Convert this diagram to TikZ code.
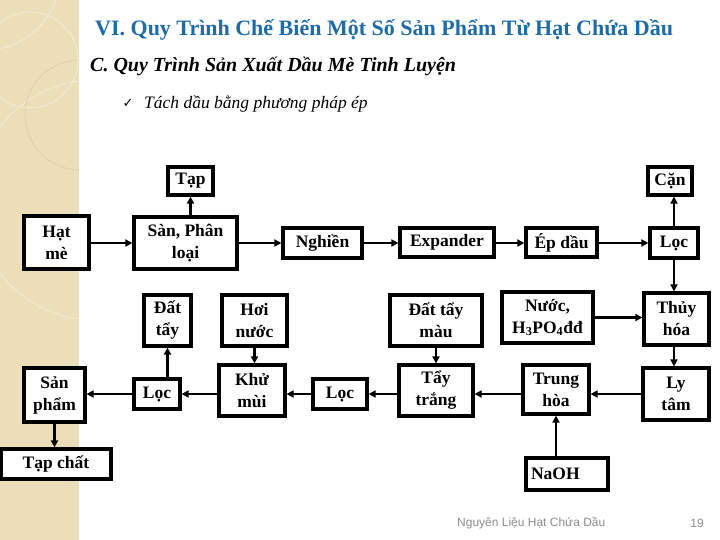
\documentclass[tikz,border=0pt]{standalone}
\usepackage{fontspec}
\setmainfont{Liberation Serif}
\newfontfamily\sansf{Liberation Sans}
\newfontfamily\dejavu{DejaVu Sans}
\usetikzlibrary{arrows.meta,calc}
\definecolor{stripe}{RGB}{235,222,184}
\definecolor{stripel}{RGB}{243,234,208}
\definecolor{striped}{RGB}{220,204,162}
\definecolor{titleblue}{RGB}{31,107,165}
\definecolor{footgray}{RGB}{140,140,140}
\tikzset{
  box/.style={draw=black, line width=3.2pt, fill=white, inner sep=0pt, align=center,
    font=\fontsize{17.5}{22}\selectfont\bfseries},
  flow/.style={line width=2.2pt, -{Triangle[length=7pt,width=7pt]}},
  arcl/.style={stripel, line width=1pt},
  arcd/.style={striped, line width=0.6pt}
}
\begin{document}
\begin{tikzpicture}[x=1pt,y=-1pt]
\useasboundingbox (0,0) rectangle (720,540);
\fill[white] (0,0) rectangle (720,540);
% left stripe
\fill[stripe] (0,0) rectangle (79,540);
\begin{scope}
  \clip (0,0) rectangle (79,540);
  \draw[arcl] (-15,-25) circle (75);
  \draw[arcl] (95,200) circle (120);
  \draw[arcd] (80,115) circle (55);
  \draw[arcl] (30,60) circle (48);
\end{scope}
% titles
\node[anchor=west, inner sep=0pt, text=titleblue, font=\fontsize{22}{26}\selectfont\bfseries] (title) at (95,30) {VI. Quy Trình Chế Biến Một Số Sản Phẩm Từ Hạt Chứa Dầu};
\node[anchor=west, inner sep=0pt, font=\fontsize{20}{24}\selectfont\bfseries\itshape] (sub) at (90,66) {C. Quy Trình Sản Xuất Dầu Mè Tinh Luyện};
\node[anchor=center, inner sep=0pt, font=\dejavu\fontsize{13}{15}\selectfont] (chk) at (128,103) {✓};
\node[anchor=west, inner sep=0pt, font=\fontsize{17.5}{20}\selectfont\itshape] (bul) at (144,104) {Tách dầu bằng phương pháp ép};
% row coordinates
\coordinate (row) at (0,394);
\coordinate (row1) at (0,243);
% boxes
\node[box, minimum width=65, minimum height=53] (hat) at (56.5,242.5) {Hạt\\mè};
\node[box, minimum width=103, minimum height=52] (san) at (185.5,243) {Sàn, Phân\\loại};
\node[box, minimum width=45, minimum height=28] (tap) at (190.5,181) {Tạp};
\node[box, minimum width=79, minimum height=30] (nghien) at (322.5,243) {Nghiền};
\node[box, minimum width=94, minimum height=29] (exp) at (447,242.5) {Expander};
\node[box, minimum width=71, minimum height=29] (ep) at (561.5,242.5) {Ép dầu};
\node[box, minimum width=48, minimum height=30] (loca) at (674,243) {Lọc};
\node[box, minimum width=44, minimum height=28] (can) at (670,181) {Cặn};
\node[box, minimum width=65, minimum height=52] (thuy) at (676.5,319) {Thủy\\hóa};
\node[box, minimum width=91, minimum height=51] (nuoc) at (547.5,317.5) {Nước,\\H\textsubscript{3}PO\textsubscript{4}đđ};
\node[box, minimum width=92, minimum height=51] (datm) at (436,320.5) {Đất tẩy\\màu};
\node[box, minimum width=47, minimum height=51] (dat) at (167.5,320.5) {Đất\\tẩy};
\node[box, minimum width=65, minimum height=51] (hoi) at (254.5,320.5) {Hơi\\nước};
\node[box, minimum width=66, minimum height=52] (ly) at (676,394) {Ly\\tâm};
\node[box, minimum width=66, minimum height=49] (trung) at (556,389.5) {Trung\\hòa};
\node[box, minimum width=74, minimum height=51] (tay) at (436,390.5) {Tẩy\\trắng};
\node[box, minimum width=54, minimum height=30] (locb) at (340,394) {Lọc};
\node[box, minimum width=66, minimum height=51] (khu) at (252,390.5) {Khử\\mùi};
\node[box, minimum width=46, minimum height=30] (locc) at (157,394) {Lọc};
\node[box, minimum width=61, minimum height=54] (sp) at (54.5,395) {Sản\\phẩm};
\node[box, minimum width=110, minimum height=30] (tapchat) at (56,464) {Tạp chất};
\node[box, minimum height=32, text width=72pt, inner xsep=5pt, align=left] (naoh) at (567,474) {NaOH};
% connectors
\draw[flow] (hat.east |- row1) -- (san.west |- row1);
\draw[flow] (tap.south |- san.north) -- (tap.south);
\draw[flow] (san.east |- row1) -- (nghien.west |- row1);
\draw[flow] (nghien.east |- row1) -- (exp.west |- row1);
\draw[flow] (exp.east |- row1) -- (ep.west |- row1);
\draw[flow] (ep.east |- row1) -- (loca.west |- row1);
\draw[flow] (loca.north) -- (loca.north |- can.south);
\draw[flow] (loca.south) -- (loca.south |- thuy.north);
\draw[flow] (nuoc.east) -- (nuoc.east -| thuy.west);
\draw[flow] (loca.south |- thuy.south) -- (loca.south |- ly.north);
\draw[flow] (ly.west |- row) -- (trung.east |- row);
\draw[flow] (naoh.north -| trung.south) -- (trung.south);
\draw[flow] (trung.west |- row) -- (tay.east |- row);
\draw[flow] (datm.south) -- (datm.south |- tay.north);
\draw[flow] (tay.west |- row) -- (locb.east |- row);
\draw[flow] (locb.west |- row) -- (khu.east |- row);
\draw[flow] (hoi.south) -- (hoi.south |- khu.north);
\draw[flow] (khu.west |- row) -- (locc.east |- row);
\draw[flow] (dat.south |- locc.north) -- (dat.south);
\draw[flow] (locc.west |- row) -- (sp.east |- row);
\draw[flow] (sp.south) -- (sp.south |- tapchat.north);
% footer
\node[anchor=west, inner sep=0pt, text=footgray, font=\sansf\fontsize{12}{14}\selectfont] (foot) at (457,523) {Nguyên Liệu Hạt Chứa Dầu};
\node[anchor=center, inner sep=0pt, text=footgray, font=\sansf\fontsize{12}{14}\selectfont] (pg) at (697,523) {19};
\end{tikzpicture}
\end{document}
